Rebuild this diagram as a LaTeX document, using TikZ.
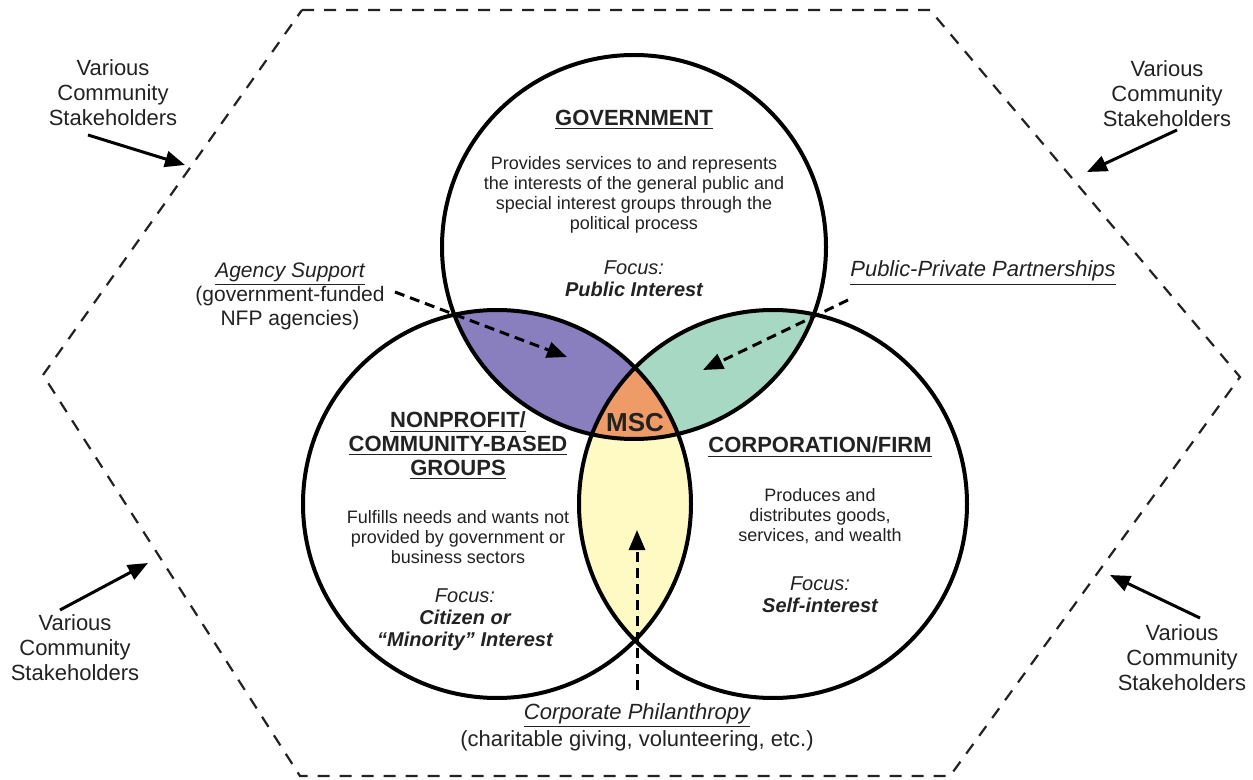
\documentclass[tikz,border=0pt]{standalone}
\usepackage{fontspec}
\setmainfont{Liberation Sans}
\usetikzlibrary{arrows.meta}

\definecolor{ink}{HTML}{222222}
\definecolor{lav}{RGB}{138,127,190}
\definecolor{mint}{RGB}{166,216,196}
\definecolor{apricot}{RGB}{239,155,104}
\definecolor{butter}{RGB}{255,250,196}

\begin{document}
\begin{tikzpicture}[x=0.5pt,y=-0.5pt,
  txt/.style={text=ink, align=center, inner sep=0pt},
  vcs/.style={txt, font=\fontsize{11}{12.5}\selectfont},
  lbl/.style={txt, font=\fontsize{11}{12}\selectfont},
  heading/.style={txt, font=\fontsize{11}{12}\selectfont\bfseries},
  body/.style={txt, font=\fontsize{9}{10}\selectfont},
  focus/.style={txt, font=\fontsize{10}{11}\selectfont},
  ring/.style={circle, draw=black, line width=2pt, inner sep=0pt, outer sep=0pt},
  hexline/.style={draw=ink, line width=1.1pt, dash pattern=on 6pt off 5pt},
  pointer/.style={draw=black, line width=1.5pt, -{Triangle[length=10pt,width=8pt]}},
  dpointer/.style={draw=black, line width=1.5pt, dash pattern=on 5pt off 3pt,
                   -{Triangle[length=10pt,width=8pt]}}]
\useasboundingbox (0,0) rectangle (1253,780);

% outer dashed hexagon
\coordinate (h1) at (302,10);
\coordinate (h2) at (930,10);
\coordinate (h3) at (1240,377);
\coordinate (h4) at (950,776);
\coordinate (h5) at (300,776);
\coordinate (h6) at (43,375);
\draw[hexline] (h1) -- (h2) -- (h3) -- (h4) -- (h5) -- (h6) -- cycle;

% circle centres
\coordinate (cG) at (634,247);
\coordinate (cN) at (497,504);
\coordinate (cC) at (773,504);

% overlap fills
\begin{scope}
  \clip (cG) circle[radius=96pt];
  \fill[lav] (cN) circle[radius=97pt];
\end{scope}
\begin{scope}
  \clip (cG) circle[radius=96pt];
  \fill[mint] (cC) circle[radius=97pt];
\end{scope}
\begin{scope}
  \clip (cN) circle[radius=97pt];
  \fill[butter] (cC) circle[radius=97pt];
\end{scope}
\begin{scope}
  \clip (cG) circle[radius=96pt];
  \clip (cN) circle[radius=97pt];
  \fill[apricot] (cC) circle[radius=97pt];
\end{scope}

% circle outlines
\node[ring, minimum size=192pt] (gov) at (cG) {};
\node[ring, minimum size=194pt] (npo) at (cN) {};
\node[ring, minimum size=194pt] (corp) at (cC) {};

% government
\node[heading] (govT) at (634,120) {\underline{GOVERNMENT}};
\node[body] (govB) at (634,195) {Provides services to and represents\\the interests of the general public and\\special interest groups through the\\political process};
\node[focus] (govF) at (634,279) {\itshape Focus:\\\bfseries\itshape Public Interest};

% nonprofit
\node[heading] (npoT) at (458,446) {\underline{NONPROFIT/}\\\underline{COMMUNITY-BASED}\\\underline{GROUPS}};
\node[body] (npoB) at (458,537) {Fulfills needs and wants not\\provided by government or\\business sectors};
\node[focus] (npoF) at (465,620) {\itshape Focus:\\\bfseries\itshape Citizen or\\\bfseries\itshape “Minority” Interest};

% corporation
\node[heading] (corpT) at (820,447) {\underline{CORPORATION/FIRM}};
\node[body] (corpB) at (820,516) {Produces and\\distributes goods,\\services, and wealth};
\node[focus] (corpF) at (820,595) {\itshape Focus:\\\bfseries\itshape Self-interest};

% centre
\node[txt, font=\fontsize{13}{14}\selectfont\bfseries] (msc) at (635,423) {MSC};

% overlap labels
\node[lbl, font=\fontsize{10.5}{12}\selectfont] (agency) at (290,296) {\itshape\underline{Agency Support}\\(government-funded\\NFP agencies)};
\node[lbl] (ppp) at (983,273) {\itshape\underline{Public-Private Partnerships}};
\node[lbl, font=\fontsize{11}{13.5}\selectfont] (phil) at (637,727) {\itshape\underline{Corporate Philanthropy}\\(charitable giving, volunteering, etc.)};

% dashed pointers into the overlaps
\coordinate (agS) at (395,292);
\coordinate (agE) at (567,357);
\draw[dpointer] (agS) -- (agE);
\coordinate (ppS) at (848,300);
\coordinate (ppE) at (703,370);
\draw[dpointer] (ppS) -- (ppE);
\coordinate (phS) at (637,690);
\coordinate (phE) at (637,530);
\draw[dpointer] (phS) -- (phE);

% stakeholders
\node[vcs] (vcsTL) at (113,93) {Various\\Community\\Stakeholders};
\node[vcs] (vcsTR) at (1167,94) {Various\\Community\\Stakeholders};
\node[vcs] (vcsBL) at (75,648) {Various\\Community\\Stakeholders};
\node[vcs] (vcsBR) at (1182,658) {Various\\Community\\Stakeholders};

\coordinate (tlS) at (88,135);
\coordinate (tlE) at (185,165);
\coordinate (trS) at (1177,130);
\coordinate (trE) at (1087,172);
\coordinate (blS) at (60,610);
\coordinate (blE) at (148,563);
\coordinate (brS) at (1200,618);
\coordinate (brE) at (1110,575);
\draw[pointer] (tlS) -- (tlE);
\draw[pointer] (trS) -- (trE);
\draw[pointer] (blS) -- (blE);
\draw[pointer] (brS) -- (brE);
\end{tikzpicture}
\end{document}
